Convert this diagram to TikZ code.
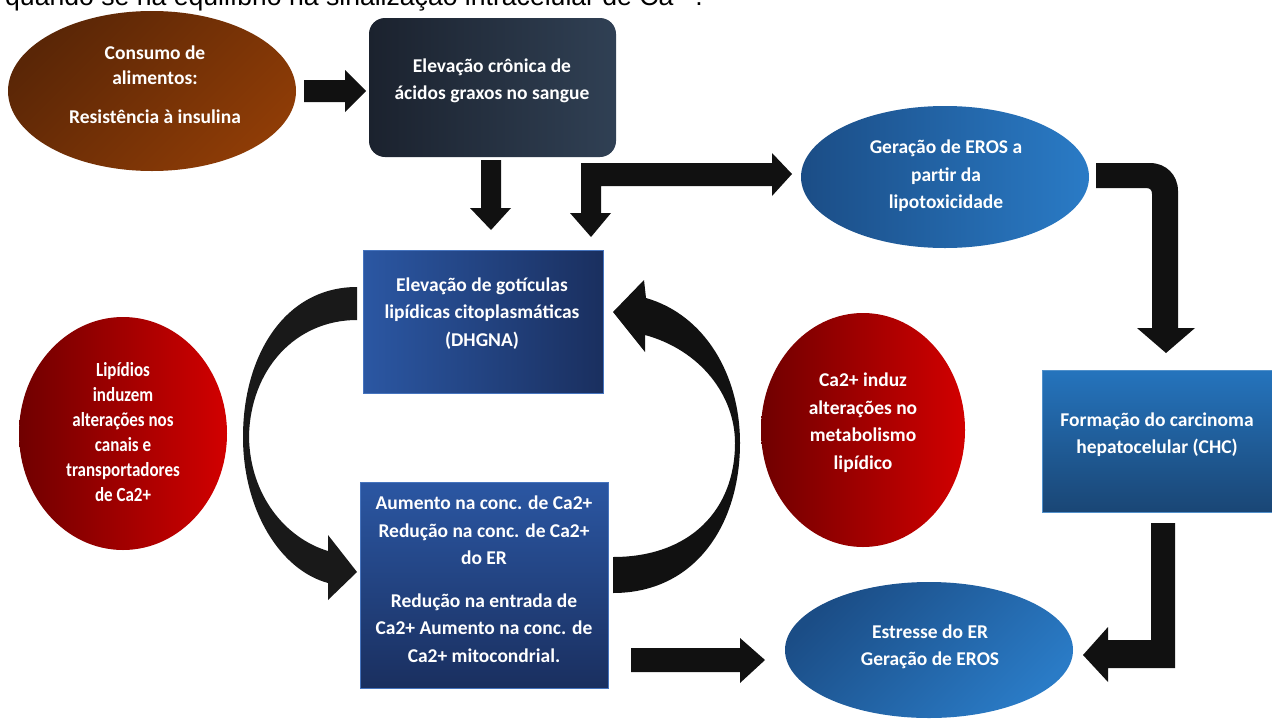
\documentclass[tikz,border=0pt]{standalone}
\usepackage{fontspec}
\setmainfont{Carlito}
\newfontfamily\topfont{Liberation Sans}
\newfontfamily\condfont[FakeStretch=0.85]{Carlito}
\usetikzlibrary{shapes.geometric}
\definecolor{brA}{HTML}{5A2606}
\definecolor{brB}{HTML}{8E3C06}
\definecolor{dkA}{HTML}{1B222E}
\definecolor{dkB}{HTML}{304054}
\definecolor{beA}{HTML}{1B4D86}
\definecolor{beB}{HTML}{2A7BC6}
\definecolor{bxA}{HTML}{2B57A3}
\definecolor{bxB}{HTML}{1A2F5F}
\definecolor{bxEdge}{HTML}{4674BE}
\definecolor{chA}{HTML}{2574BD}
\definecolor{chB}{HTML}{1A4675}
\definecolor{rdA}{HTML}{700000}
\definecolor{rdB}{HTML}{D20000}
\definecolor{arrowblk}{HTML}{111111}
\begin{document}
\begin{tikzpicture}[x=1pt,y=-1pt,
  lbl/.style={text=white,font=\bfseries\fontsize{19.5}{27.5}\selectfont,align=center,inner sep=0pt},
  blk/.style={fill=arrowblk,draw=none},
  oval/.style={ellipse,inner sep=0pt,draw=none},
  box/.style={rectangle,inner sep=0pt,draw=none}]
\useasboundingbox (0,0) rectangle (1272,718);
\fill[white] (0,0) rectangle (1272,718);

% clipped caption line at the top
\node[anchor=base west,inner sep=0pt,font=\topfont\fontsize{26.6}{32}\selectfont] (cap) at (5,5)
  {quando se há equilíbrio na sinalização intracelular de Ca\textsuperscript{2+}.};

% shapes
\node[oval,minimum width=288pt,minimum height=160pt,top color=brA,bottom color=brB,shading angle=45] (food) at (152,91) {};
\node[box,minimum width=247pt,minimum height=139pt,rounded corners=16pt,left color=dkA,right color=dkB] (fa) at (492.5,87.5) {};
\node[oval,minimum width=288pt,minimum height=142pt,left color=beA,right color=beB] (eros) at (945,177) {};
\node[box,minimum width=240pt,minimum height=143pt,left color=bxA,right color=bxB,draw=bxEdge,line width=0.8pt] (dhgna) at (483,321.5) {};
\node[box,minimum width=248pt,minimum height=206pt,top color=bxA,bottom color=bxB,draw=bxEdge,line width=0.8pt] (ca) at (484,585) {};
\node[oval,minimum width=208pt,minimum height=233pt,left color=rdA,right color=rdB] (lip) at (123,433.5) {};
\node[oval,minimum width=204pt,minimum height=234pt,left color=rdA,right color=rdB] (cain) at (863,430) {};
\node[box,minimum width=230pt,minimum height=142pt,top color=chA,bottom color=chB,draw=chA!80!white,line width=0.8pt] (chc) at (1157,441) {};
\node[oval,minimum width=288pt,minimum height=136pt,top color=beA,bottom color=beB,shading angle=45] (er) at (929,650) {};

% texts
\node[lbl,font=\bfseries\fontsize{19.5}{25}\selectfont] (foodt) at (155,85) {Consumo de\\alimentos:\\[14pt]Resistência à insulina};
\node[lbl] (fat) at (492,81) {Elevação crônica de\\ácidos graxos no sangue};
\node[lbl] (erost) at (946,176) {Geração de EROS a\\partir da\\lipotoxicidade};
\node[lbl] (dhgnat) at (482,313.5) {Elevação de gotículas\\lipídicas citoplasmáticas\\(DHGNA)};
\node[lbl] (cat) at (484,579) {Aumento na conc. de Ca2+\\Redução na conc. de Ca2+\\do ER\\[15pt]Redução na entrada de\\Ca2+ Aumento na conc. de\\Ca2+ mitocondrial.};
\node[lbl,font=\condfont\bfseries\fontsize{20}{25}\selectfont] (lipt) at (123,432.5) {Lipídios\\induzem\\alterações nos\\canais e\\transportadores\\de Ca2+};
\node[lbl] (caint) at (863,422.5) {Ca2+ induz\\alterações no\\metabolismo\\lipídico};
\node[lbl] (chct) at (1157,434.5) {Formação do carcinoma\\hepatocelular (CHC)};
\node[lbl] (ert) at (930,647) {Estresse do ER\\Geração de EROS};

% block arrows
\fill[blk] (304,80) -- (345,80) -- (345,70) -- (366,91) -- (345,112) -- (345,102) -- (304,102) -- cycle;
\fill[blk] (481,160) -- (501,160) -- (501,208) -- (511,208) -- (491,230) -- (470,208) -- (481,208) -- cycle;
\fill[blk] (591,237) -- (611,213) -- (601,213) -- (601,186) -- (772,186) -- (772,196) -- (792,174)
  -- (772,153) -- (772,163) -- (581,163) -- (581,213) -- (570,213) -- cycle;
\fill[blk] (1096,163) -- (1150,163) .. controls (1166,163) and (1178,175) .. (1178,191) -- (1178,328)
  -- (1195,328) -- (1166,353) -- (1137,328) -- (1152,328) -- (1152,194)
  .. controls (1152,190) and (1150,188) .. (1146,188) -- (1096,188) -- cycle;
\fill[blk] (1151,523) -- (1175,523) -- (1175,668) -- (1108,668) -- (1108,682) -- (1083,655)
  -- (1108,627) -- (1108,640) -- (1151,640) -- cycle;
\fill[blk] (631,648) -- (740,648) -- (740,638) -- (765,660) -- (740,683) -- (740,672) -- (631,672) -- cycle;

% curved arrows
\fill[fill=black!90] (357,287) .. controls (285,287) and (243,355) .. (243,437)
  .. controls (243,510) and (280,570) .. (328,583) -- (328,600) -- (357,572) -- (328,535) -- (328,551)
  .. controls (285,538) and (250,495) .. (249,437)
  .. controls (250,370) and (295,320) .. (357,320) -- cycle;
\fill[blk] (613,593) .. controls (695,593) and (740,525) .. (740,443)
  .. controls (740,375) and (705,315) .. (646,298) -- (644,280) -- (613,312) -- (645,352) -- (645,335)
  .. controls (700,350) and (735,395) .. (735,443)
  .. controls (735,510) and (690,557) .. (613,557) -- cycle;
\end{tikzpicture}
\end{document}
